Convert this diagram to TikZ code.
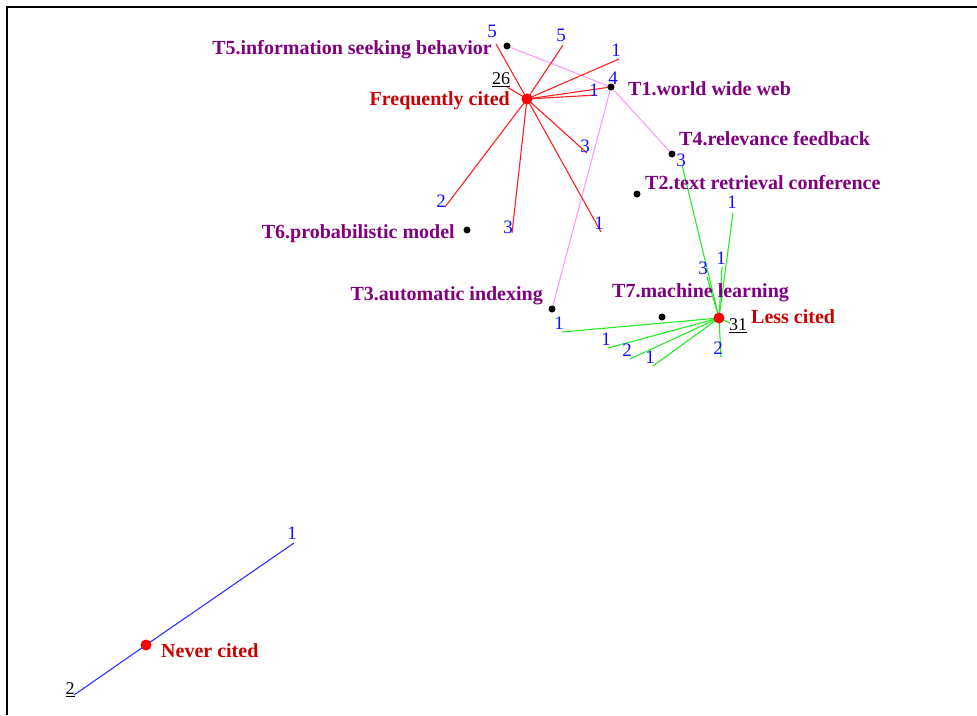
\documentclass[tikz,border=0pt]{standalone}
\usepackage{fontspec}
\setmainfont{Liberation Serif}
\pgfdeclarelayer{bg}
\pgfsetlayers{bg,main}
\definecolor{tpurple}{HTML}{800080}
\definecolor{hubred}{HTML}{CC0000}
\definecolor{numblue}{HTML}{1010FF}
\definecolor{pinkline}{HTML}{FF99FF}
\definecolor{greenline}{HTML}{22EE22}
\definecolor{redline}{HTML}{FF2020}
\definecolor{blueline}{HTML}{3030FF}
\tikzset{
  hub/.style={circle,fill=red,inner sep=0pt,minimum size=11pt},
  tdot/.style={circle,fill=black,inner sep=0pt,minimum size=7pt},
  tlab/.style={text=tpurple,font=\fontsize{20}{20}\selectfont\bfseries,inner sep=0pt},
  hlab/.style={text=hubred,font=\fontsize{20}{20}\selectfont\bfseries,inner sep=0pt},
  num/.style={text=numblue,font=\fontsize{19}{19}\selectfont,inner sep=0pt},
  cnt/.style={text=black,font=\fontsize{18}{18}\selectfont,inner sep=0pt},
  rl/.style={draw=redline,line width=1.1pt},
  gl/.style={draw=greenline,line width=1.1pt},
  pl/.style={draw=pinkline,line width=1.1pt},
  bl/.style={draw=blueline,line width=1.1pt},
  frame/.style={draw=black,line width=2.5pt}
}
\begin{document}
\begin{tikzpicture}[x=1pt,y=-1pt]
\useasboundingbox (0,0) rectangle (977,715);
% frame
\coordinate (f1) at (977,7);
\coordinate (f2) at (7,7);
\coordinate (f3) at (7,715);
\draw[frame] (f1) -- (f2) -- (f3);

% hubs
\node[hub] (fc) at (527,99) {};
\node[hub] (lc) at (719,318) {};
\node[hub] (nc) at (146,645) {};
\node[hlab,anchor=base east] (fcl) at (510,105) {Frequently cited};
\node[hlab,anchor=base west] (lcl) at (751,323) {Less cited};
\node[hlab,anchor=base west] (ncl) at (161,657) {Never cited};

% topic dots
\node[tdot] (t1) at (611,87) {};
\node[tdot] (t2) at (637,194) {};
\node[tdot] (t3) at (552,309) {};
\node[tdot] (t4) at (672,154) {};
\node[tdot] (t5) at (507,46) {};
\node[tdot] (t6) at (467,230) {};
\node[tdot] (t7) at (662,317) {};
\node[tlab,anchor=base west] (t1l) at (628,95) {T1.world wide web};
\node[tlab,anchor=base west] (t2l) at (645,189) {T2.text retrieval conference};
\node[tlab,anchor=base east] (t3l) at (543,300) {T3.automatic indexing};
\node[tlab,anchor=base west] (t4l) at (679,145) {T4.relevance feedback};
\node[tlab,anchor=base east] (t5l) at (492,54) {T5.information seeking behavior};
\node[tlab,anchor=base east] (t6l) at (455,238) {T6.probabilistic model};
\node[tlab,anchor=base west] (t7l) at (612,297) {T7.machine learning};

% red edge ends
\coordinate (r1) at (496,44);
\coordinate (r2) at (563,45);
\coordinate (r3) at (619,59);
\coordinate (r4) at (597,95);
\coordinate (r5) at (507,87);
\coordinate (r6) at (587,153);
\coordinate (r7) at (445,207);
\coordinate (r8) at (512,233);
\coordinate (r9) at (601,232);
\node[num] (n1) at (492,31) {5};
\node[num] (n2) at (561,35) {5};
\node[num] (n3) at (616,50) {1};
\node[num] (n4) at (613,78) {4};
\node[num] (n5) at (594,90) {1};
\node[cnt] (n6) at (501,80) {\underline{26}};
\node[num] (n7) at (585,146) {3};
\node[num] (n8) at (441,201) {2};
\node[num] (n9) at (508,227) {3};
\node[num] (n10) at (599,223) {1};

% green edge ends
\coordinate (g1) at (682,165);
\coordinate (g2) at (707,277);
\coordinate (g3) at (733,213);
\coordinate (g4) at (722,267);
\coordinate (g5) at (562,332);
\coordinate (g6) at (608,348);
\coordinate (g7) at (630,359);
\coordinate (g8) at (653,366);
\coordinate (g9) at (721,357);
\coordinate (g10) at (730,323);
\node[num] (m1) at (681,160) {3};
\node[num] (m2) at (703,268) {3};
\node[num] (m3) at (732,202) {1};
\node[num] (m4) at (721,258) {1};
\node[num] (m5) at (559,323) {1};
\node[num] (m6) at (606,339) {1};
\node[num] (m7) at (627,350) {2};
\node[num] (m8) at (650,357) {1};
\node[num] (m9) at (718,348) {2};
\node[cnt] (m10) at (738,326) {\underline{31}};

% blue edge ends
\coordinate (b1) at (294,543);
\coordinate (b2) at (74,695);
\node[num] (k1) at (292,533) {1};
\node[cnt] (k2) at (70,690) {\underline{2}};

\begin{pgfonlayer}{bg}
  % pink topic links
  \draw[pl] (t5.center) -- (t1.center) -- (t4.center);
  \draw[pl] (t1.center) -- (t3.center);
  % red
  \foreach \e in {r1,r2,r3,r4,r5,r6,r7,r8,r9}
    \draw[rl] (fc.center) -- (\e);
  \draw[rl] (fc.center) -- (t1.center);
  % green
  \foreach \e in {g1,g2,g3,g4,g5,g6,g7,g8,g9,g10}
    \draw[gl] (lc.center) -- (\e);
  % blue
  \draw[bl] (b2) -- (nc.center) -- (b1);
\end{pgfonlayer}
\end{tikzpicture}
\end{document}
